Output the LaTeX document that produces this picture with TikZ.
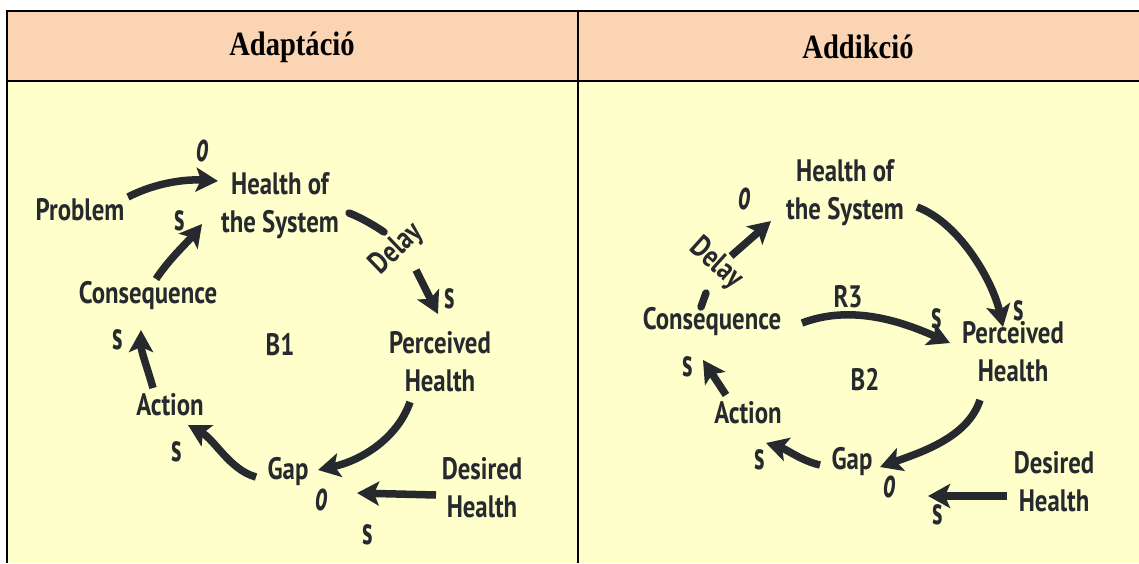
\documentclass[tikz,border=0pt]{standalone}
\usepackage{fontspec}
\usepackage{graphicx}
\usetikzlibrary{arrows.meta,calc}
\newfontfamily\hand{PT Sans}[FakeStretch=0.8]
\newfontfamily\titlef{Liberation Serif}[FakeStretch=0.84]
\definecolor{peach}{HTML}{FBD4B4}
\definecolor{cream}{HTML}{FFFFCC}
\definecolor{ink}{HTML}{262A2E}
\newcommand{\polS}{\scalebox{1}[1.25]{s}}
\newcommand{\polO}{\scalebox{1.05}[1.4]{o}}
\begin{document}
\begin{tikzpicture}[x=1pt,y=-1pt,
  title/.style={font=\titlef\bfseries\fontsize{34}{36}\selectfont},
  lbl/.style={font=\hand\bfseries\fontsize{31}{38}\selectfont,text=ink,align=center,inner sep=0pt},
  pol/.style={font=\hand\bfseries\fontsize{31}{31}\selectfont,text=ink,inner sep=0pt},
  polo/.style={font=\hand\bfseries\itshape\fontsize{30}{30}\selectfont,text=ink,inner sep=0pt},
  arr/.style={draw=ink,line width=7.5pt,-{Stealth[length=22pt,width=24pt,inset=5pt]}},
  seg/.style={draw=ink,line width=7.5pt,line cap=round}]
\useasboundingbox (0,0) rectangle (1139,563);
% table
\fill[peach] (7,11) rectangle (1139,81);
\fill[cream] (7,81) rectangle (1139,563);
\draw[line width=1.3pt] (7,81) -- (1139,81);
\draw[line width=2.2pt] (6,11) -- (1139,11);
\draw[line width=2.2pt] (7,10) -- (7,563);
\draw[line width=2.2pt] (578,10) -- (578,563);
\node[title] (t1) at (292,47) {Adaptáció};
\node[title] (t2) at (858,47) {Addikció};
% ---------- left panel ----------
\node[lbl] (hs1) at (280,206) {Health of\\the System};
\node[lbl] (prob) at (80,210) {Problem};
\node[lbl] (cons1) at (148,296) {Consequence};
\node[lbl] (per1) at (440,362) {Perceived\\Health};
\node[lbl] (act1) at (170,405) {Action};
\node[lbl] (gap1) at (288,472) {Gap};
\node[lbl] (des1) at (482,488) {Desired\\Health};
\node[lbl] (b1) at (280,345) {B1};
\node[lbl,rotate=44] (dl1) at (397,249) {Delay};
\draw[arr] ($(prob)+(48,-13)$) .. controls ($(prob)+(75,-27)$) and ($(hs1)+(-95,-27)$) .. ($(hs1)+(-62,-25)$);
\draw[arr] ($(cons1)+(8,-17)$) .. controls ($(cons1)+(22,-38)$) and ($(hs1)+(-94,38)$) .. ($(hs1)+(-78,18)$);
\draw[seg] ($(hs1)+(69,7)$) .. controls ($(hs1)+(82,12)$) and ($(hs1)+(95,20)$) .. ($(dl1)+(-13,-17)$);
\draw[arr] ($(dl1)+(19,21)$) -- ($(per1)+(-2,-48)$);
\draw[arr] ($(per1)+(-30,40)$) .. controls ($(per1)+(-42,75)$) and ($(gap1)+(75,-12)$) .. ($(gap1)+(30,-2)$);
\draw[arr] ($(gap1)+(-32,5)$) .. controls ($(gap1)+(-58,-2)$) and ($(act1)+(45,35)$) .. ($(act1)+(18,20)$);
\draw[arr] ($(act1)+(-17,-17)$) .. controls ($(act1)+(-22,-35)$) and ($(cons1)+(-7,55)$) .. ($(cons1)+(-7,34)$);
\draw[arr] ($(des1)+(-46,7)$) -- ($(gap1)+(69,21)$);
\node[polo] (o1) at (203,151) {\polO};
\node[pol] (s1) at (180,221) {\polS};
\node[pol] (s2) at (450,299) {\polS};
\node[pol] (s3) at (118,340) {\polS};
\node[pol] (s4) at (177,452) {\polS};
\node[polo] (o2) at (322,500) {\polO};
\node[pol] (s5) at (368,535) {\polS};
% ---------- right panel ----------
\node[lbl] (hs2) at (845,193) {Health of\\the System};
\node[lbl] (cons2) at (712,322) {Consequence};
\node[lbl] (per2) at (1013,352) {Perceived\\Health};
\node[lbl] (act2) at (748,413) {Action};
\node[lbl] (gap2) at (852,462) {Gap};
\node[lbl] (des2) at (1054,482) {Desired\\Health};
\node[lbl] (b2) at (865,380) {B2};
\node[lbl] (r3) at (848,297) {R3};
\node[lbl,rotate=-42] (dl2) at (716,264) {Delay};
\draw[seg] ($(cons2)+(-11,-15)$) -- ($(cons2)+(-6,-29)$);
\draw[arr] ($(hs2)+(-114,63)$) -- ($(hs2)+(-74,28)$);
\draw[arr] ($(hs2)+(72,14)$) .. controls ($(hs2)+(115,30)$) and ($(per2)+(-20,-70)$) .. ($(per2)+(-10,-25)$);
\draw[arr] ($(cons2)+(90,1)$) .. controls ($(cons2)+(140,-18)$) and ($(per2)+(-110,-30)$) .. ($(per2)+(-63,-9)$);
\draw[arr] ($(per2)+(-33,48)$) .. controls ($(per2)+(-45,85)$) and ($(gap2)+(70,-10)$) .. ($(gap2)+(28,5)$);
\draw[arr] ($(gap2)+(-32,3)$) .. controls ($(gap2)+(-50,-1)$) and ($(act2)+(38,36)$) .. ($(act2)+(18,30)$);
\draw[arr] ($(act2)+(-22,-18)$) -- ($(cons2)+(-9,38)$);
\draw[arr] ($(des2)+(-47,14)$) -- ($(gap2)+(76,34)$);
\node[polo] (o3) at (745,199) {\polO};
\node[pol] (s6) at (1019,311) {\polS};
\node[pol] (s7) at (937,319) {\polS};
\node[pol] (s8) at (688,367) {\polS};
\node[pol] (s9) at (760,460) {\polS};
\node[polo] (o4) at (890,487) {\polO};
\node[pol] (s10) at (938,515) {\polS};
\end{tikzpicture}
\end{document}
